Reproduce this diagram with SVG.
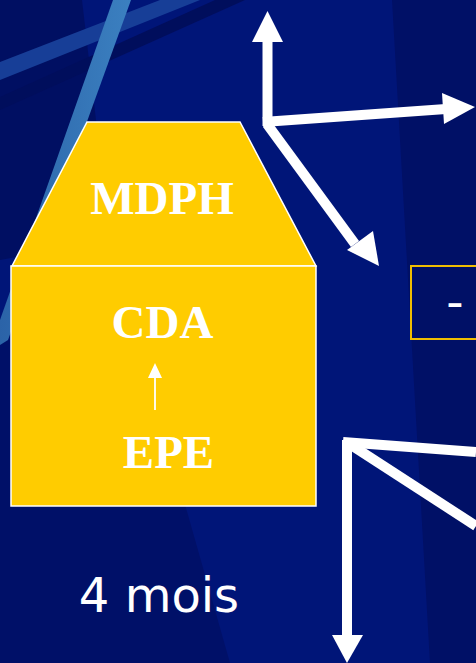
<svg xmlns="http://www.w3.org/2000/svg" width="476" height="663" viewBox="0 0 476 663">
<defs>
<style>
.bold{font-family:"Liberation Serif","Times New Roman",serif;font-weight:bold;font-size:47px;fill:#fff;text-anchor:middle}
.sans{font-family:"DejaVu Sans",Verdana,sans-serif;font-size:48px;fill:#fff;text-anchor:middle}
.shape{fill:#FFCC00;stroke:#fff;stroke-width:1.5}
.wa{fill:#fff}
</style>
<linearGradient id="streak" x1="0" y1="0" x2="1" y2="0">
<stop offset="0" stop-color="#2B63A8"/><stop offset="1" stop-color="#3B80C0"/>
</linearGradient>
</defs>
<g id="background">
<rect width="476" height="663" fill="#001578"/>
<polygon points="0,0 82,0 110,240 0,260" fill="#000F62"/>
<polygon points="0,340 110,240 230,663 0,663" fill="#001068"/>
<polygon points="392,0 476,0 476,663 430,663" fill="#001066"/>
<polygon points="0,97 215,0 245,0 0,110" fill="#000E5C"/>
<polygon points="0,62 160,0 200,0 0,80" fill="#173E97"/>
<polygon points="113,0 131,0 8,340 0,345 0,320" fill="url(#streak)"/>
</g>
<g id="mdph">
<polygon class="shape" points="87,122 240,122 316,266 12,266"/>
<text class="bold" x="162" y="214">MDPH</text>
</g>
<g id="cda-epe">
<rect class="shape" x="11" y="266" width="305" height="240"/>
<text class="bold" x="162.5" y="338">CDA</text>
<text class="bold" x="168.5" y="468">EPE</text>
</g>
<g id="box">
<rect x="411" y="266" width="70" height="73" fill="none" stroke="#F0BE00" stroke-width="2"/>
<text class="sans" x="455" y="318">-</text>
</g>
<g id="connectors">
<line x1="155" y1="410" x2="155" y2="375" stroke="#fff" stroke-width="1.8"/>
<polygon class="wa" points="155,363 162,378 148,378"/>
<g stroke="#fff" stroke-width="10" fill="none">
<line x1="267.5" y1="126" x2="267.5" y2="40"/>
<line x1="263" y1="122" x2="446" y2="109"/>
<line x1="267" y1="124" x2="355" y2="244"/>
<line x1="347" y1="440" x2="347" y2="637"/>
<line x1="343" y1="442" x2="476" y2="452"/>
<line x1="348" y1="443" x2="476" y2="526"/>
</g>
<polygon class="wa" points="267.5,11 283,42 252,42"/>
<polygon class="wa" points="475,107 444,124 442,93"/>
<polygon class="wa" points="379,266 347,250 373,231"/>
<polygon class="wa" points="347,663 363,635 332,635"/>
</g>
<g id="label">
<text class="sans" x="159" y="612">4 mois</text>
</g>
</svg>
